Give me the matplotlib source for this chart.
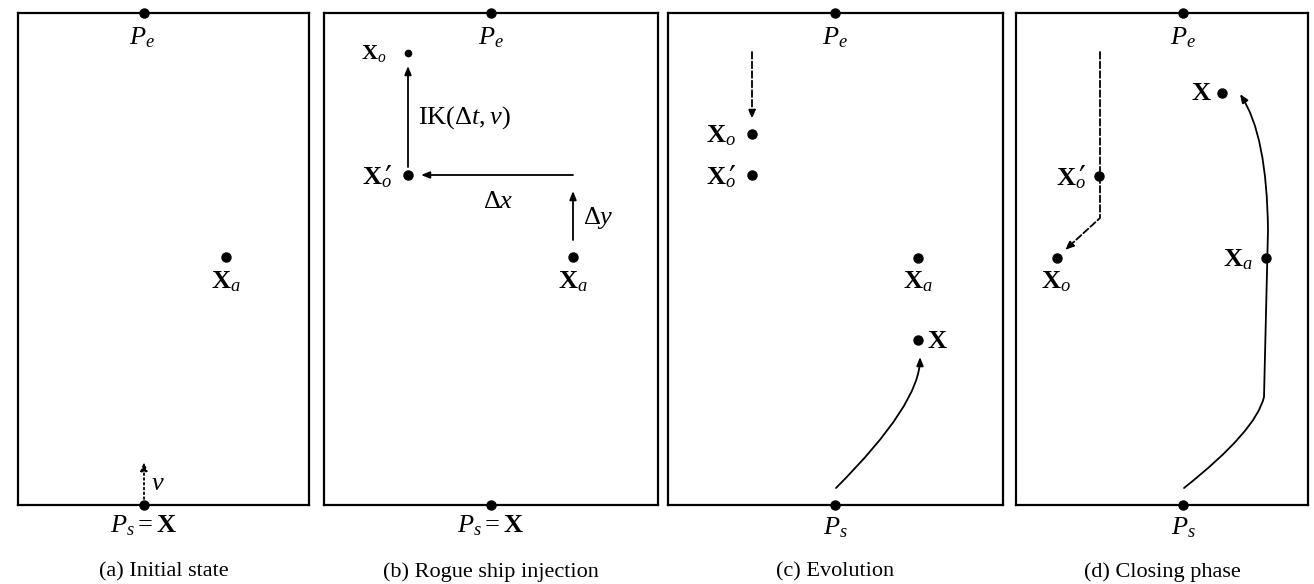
import matplotlib.pyplot as plt
from matplotlib.patches import FancyArrowPatch
from matplotlib.path import Path

plt.rcParams['font.family'] = 'Liberation Serif'
plt.rcParams['mathtext.fontset'] = 'custom'
plt.rcParams['mathtext.rm'] = 'Liberation Serif'
plt.rcParams['mathtext.it'] = 'Liberation Serif:italic'
plt.rcParams['mathtext.bf'] = 'Liberation Serif:bold'

W, H = 1314, 584

# panel boxes in pixels: left, top, right, bottom
boxes = [(18, 13, 309, 505), (324, 13, 658, 505),
         (668, 13, 1003, 505), (1016, 13, 1308, 505)]
captions = ['(a) Initial state', '(b) Rogue ship injection',
            '(c) Evolution', '(d) Closing phase']

# points (x, y) per panel
dots = [
    [(144, 13), (144, 505), (226, 257)],
    [(491, 13), (491, 505), (408, 175), (573, 257)],
    [(835, 13), (835, 505), (752, 134), (752, 175), (918, 258), (918, 340)],
    [(1183, 13), (1183, 505), (1099, 176), (1057, 258), (1266, 258), (1222, 93)],
]
small_dot_b = (408, 53)

# labels: text, x, y, ha
labels = [
    [(r'$P_e$', 142, 38, 'center'), (r'$P_s = \mathbf{X}$', 144, 526, 'center'),
     (r'$\mathbf{X}_a$', 226, 282, 'center'), (r'$v$', 151, 484, 'left')],
    [(r'$P_e$', 491, 38, 'center'), (r'$P_s = \mathbf{X}$', 491, 526, 'center'),
     (r'$\mathbf{X}_o$', 392, 178, 'right'),
     (r'$\mathrm{IK}(\Delta t, v)$', 418, 118, 'left'), (r'$\Delta x$', 498, 202, 'center'),
     (r'$\Delta y$', 583, 218, 'left'), (r'$\mathbf{X}_a$', 573, 282, 'center')],
    [(r'$P_e$', 835, 38, 'center'), (r'$P_s$', 835, 528, 'center'),
     (r'$\mathbf{X}_o$', 736, 136, 'right'), (r'$\mathbf{X}_o$', 736, 178, 'right'),
     (r'$\mathbf{X}_a$', 918, 282, 'center'), (r'$\mathbf{X}$', 927, 342, 'left')],
    [(r'$P_e$', 1183, 38, 'center'), (r'$P_s$', 1183, 528, 'center'),
     (r'$\mathbf{X}_o$', 1086, 179, 'right'), (r'$\mathbf{X}_o$', 1056, 282, 'center'),
     (r'$\mathbf{X}$', 1212, 94, 'right'), (r'$\mathbf{X}_a$', 1253, 260, 'right')],
]
small_label_b = (r'$\mathbf{X}_o$', 387, 54)

# prime marks of the X_o' labels (placed above the subscript)
primes = [[], [(388, 180)], [(732, 180)], [(1082, 180)]]

# straight arrows: start, end, linestyle
arrows = [
    [((144, 499), (144, 462), ':')],
    [((408, 167), (408, 66), '-'), ((573, 175), (421, 175), '-'),
     ((573, 240), (573, 191), '-')],
    [((752, 52), (752, 119), '--')],
    [],
]

# curved paths (vertices + codes)
curve_c = [(836, 488), (920, 404), (920, 357)]
curve_d = [(1184, 488), (1256, 431), (1264, 397), (1268, 230), (1267, 135), (1240, 94)]
dash_d = [(1100, 52), (1100, 218), (1065, 250)]

fig = plt.figure(figsize=(W / 100, H / 100), dpi=100)
axes = []
for (l, t, r, b), cap in zip(boxes, captions):
    ax = fig.add_axes([l / W, 1 - b / H, (r - l) / W, (b - t) / H])
    ax.set_xlim(l, r)
    ax.set_ylim(b, t)
    ax.set_xticks([])
    ax.set_yticks([])
    for s in ax.spines.values():
        s.set_linewidth(1.6)
    ax.text((l + r) / 2, 572, cap, ha='center', va='center', fontsize=16, clip_on=False)
    axes.append(ax)

astyle = dict(arrowstyle='-|>,head_length=0.5,head_width=0.2', mutation_scale=10,
              color='black', lw=1.3, shrinkA=0, shrinkB=0)

for ax, pts, labs, arrs, prs in zip(axes, dots, labels, arrows, primes):
    xs = [p[0] for p in pts]
    ys = [p[1] for p in pts]
    ax.plot(xs, ys, 'o', color='black', ms=6.5, clip_on=False, zorder=5)
    for txt, x, y, ha in labs:
        ax.text(x, y, txt, ha=ha, va='center', fontsize=19, clip_on=False)
    for x, y in prs:
        ax.text(x, y, '\u2032', ha='center', va='center', fontsize=22,
                family='DejaVu Serif')
    for p0, p1, ls in arrs:
        ax.add_patch(FancyArrowPatch(p0, p1, linestyle=ls, **astyle))

# the X_o of panel (b) is drawn a bit smaller in the original
axes[1].plot(*small_dot_b, 'o', color='black', ms=4.5, zorder=5)
axes[1].text(small_label_b[1], small_label_b[2], small_label_b[0], ha='right',
             va='center', fontsize=16)

ax = axes[2]
ax.add_patch(FancyArrowPatch(path=Path(curve_c, [Path.MOVETO, Path.CURVE3, Path.CURVE3]),
                             **astyle))
ax = axes[3]
ax.add_patch(FancyArrowPatch(path=Path(curve_d, [Path.MOVETO, Path.CURVE3, Path.CURVE3,
                                                 Path.LINETO, Path.CURVE3, Path.CURVE3]),
                             **astyle))
ax.add_patch(FancyArrowPatch(path=Path(dash_d, [Path.MOVETO, Path.LINETO, Path.LINETO]),
                             linestyle='--', **astyle))

fig.savefig('out.png', dpi=100)
